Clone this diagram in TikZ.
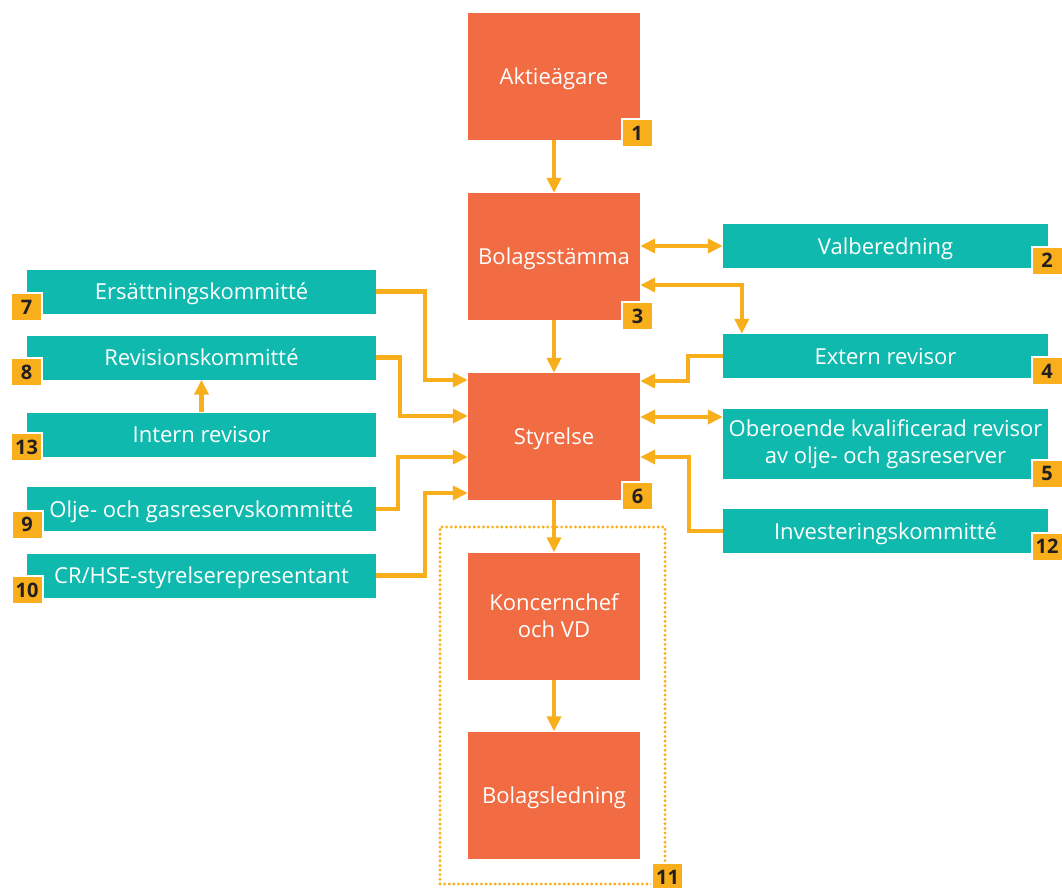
\documentclass[tikz,border=0pt]{standalone}
\usepackage{fontspec}
\setmainfont{Open Sans}
\usetikzlibrary{arrows.meta,calc}
\definecolor{obox}{HTML}{F16B43}
\definecolor{tbox}{HTML}{10B9AD}
\definecolor{ybadge}{HTML}{F9AE1B}
\definecolor{ink}{HTML}{231F20}
\tikzset{
  orangebox/.style={fill=obox, draw=none, minimum width=172pt, minimum height=127pt, inner sep=0pt, text=white, font=\fontsize{22}{27}\selectfont, align=center},
  tealbox/.style={fill=tbox, draw=none, minimum width=349pt, minimum height=44pt, inner sep=0pt, text=white, font=\fontsize{22}{27}\selectfont, align=center},
  tealboxr/.style={tealbox, minimum width=325pt},
  oneline/.style={text height=16pt, text depth=0pt},
  badge/.style={fill=ybadge, draw=white, line width=2pt, minimum width=31pt, minimum height=28pt, inner sep=0pt, text=ink, font=\fontsize{20}{24}\selectfont\bfseries},
  conn/.style={draw=ybadge, line width=4.5pt},
  arr/.style={conn, -{Triangle[length=15pt,width=14pt]}},
  darr/.style={conn, {Triangle[length=15pt,width=14pt]}-{Triangle[length=15pt,width=14pt]}},
  grpbox/.style={draw=ybadge, line width=3.2pt, line cap=round, dash pattern=on 0pt off 4.6pt, minimum width=225pt, minimum height=357pt, inner sep=0pt}
}
\begin{document}
\begin{tikzpicture}[x=1pt,y=-1pt]
\useasboundingbox (0,0) rectangle (1062,888);
% group box
\node[grpbox] (grp) at (552.5,705.5) {};
% orange boxes
\node[orangebox, oneline] (akt) at (554,76.5) {Aktieägare};
\node[orangebox, oneline] (bol) at (554,256.5) {Bolagsstämma};
\node[orangebox, oneline] (sty) at (554,436.5) {Styrelse};
\node[orangebox] (vd) at (554,616) {Koncernchef\\och VD};
\node[orangebox, oneline] (led) at (554,795) {Bolagsledning};
% left teal boxes
\node[tealbox, oneline] (ers) at (201.5,291.5) {Ersättningskommitté};
\node[tealbox, oneline] (rev) at (201.5,357.5) {Revisionskommitté};
\node[tealbox, oneline] (int) at (201.5,434.5) {Intern revisor};
\node[tealbox, oneline] (olj) at (201.5,509) {Olje- och gasreservskommitté};
\node[tealbox, oneline] (cr) at (201.5,575.5) {CR/HSE-styrelserepresentant};
% right teal boxes
\node[tealboxr, oneline] (val) at (885.5,246) {Valberedning};
\node[tealboxr, oneline] (ext) at (885.5,356) {Extern revisor};
\node[tealboxr, minimum height=70pt] (obe) at (885.5,444) {Oberoende kvalificerad revisor\\av olje- och gasreserver};
\node[tealboxr, oneline] (inv) at (885.5,531) {Investeringskommitté};
% badges
\node[badge] (b1) at (637,133) {1};
\node[badge] (b3) at (637.5,316) {3};
\node[badge] (b6) at (637.5,496) {6};
\node[badge] (b11) at (667.5,877) {11};
\node[badge] (b7) at (26.5,307) {7};
\node[badge] (b8) at (26.5,372) {8};
\node[badge] (b13) at (26.5,447) {13};
\node[badge] (b9) at (27,524.5) {9};
\node[badge] (b10) at (27,590) {10};
\node[badge] (b2) at (1047,260.5) {2};
\node[badge] (b4) at (1047,371) {4};
\node[badge] (b5) at (1047,473.5) {5};
\node[badge] (b12) at (1047,546.5) {12};
% vertical chain
\draw[arr] (akt) -- (bol);
\draw[arr] (bol) -- (sty);
\draw[arr] (sty) -- (vd);
\draw[arr] (vd) -- (led);
% right side
\draw[darr] (bol.east |- val.west) -- (val.west);
\coordinate (bext) at ($(bol.east)+(0,28.5)$);
\draw[darr] (bext) -| ($(ext.north west)+(19,0)$);
\coordinate (sext) at ($(sty.east)+(0,-55.5)$);
\draw[arr] (ext.west) -- ++(-35,0) |- (sext);
\coordinate (sobe) at ($(sty.east)+(0,-19.5)$);
\draw[darr] (sobe) -- (sobe -| obe.west);
\coordinate (sinv) at ($(sty.east)+(0,20.5)$);
\draw[arr] (inv.west) -- ++(-34,0) |- (sinv);
% left side
\coordinate (sers) at ($(sty.west)+(0,-56.5)$);
\draw[arr] (ers.east) -- ++(49,0) |- (sers);
\coordinate (srev) at ($(sty.west)+(0,-20.5)$);
\draw[arr] (rev.east) -- ++(24,0) |- (srev);
\coordinate (solj) at ($(sty.west)+(0,20.5)$);
\draw[arr] (olj.east) -- ++(22,0) |- (solj);
\coordinate (scr) at ($(sty.west)+(0,56.5)$);
\draw[arr] (cr.east) -- ++(49,0) |- (scr);
\draw[arr] (int) -- (rev);
\end{tikzpicture}
\end{document}
